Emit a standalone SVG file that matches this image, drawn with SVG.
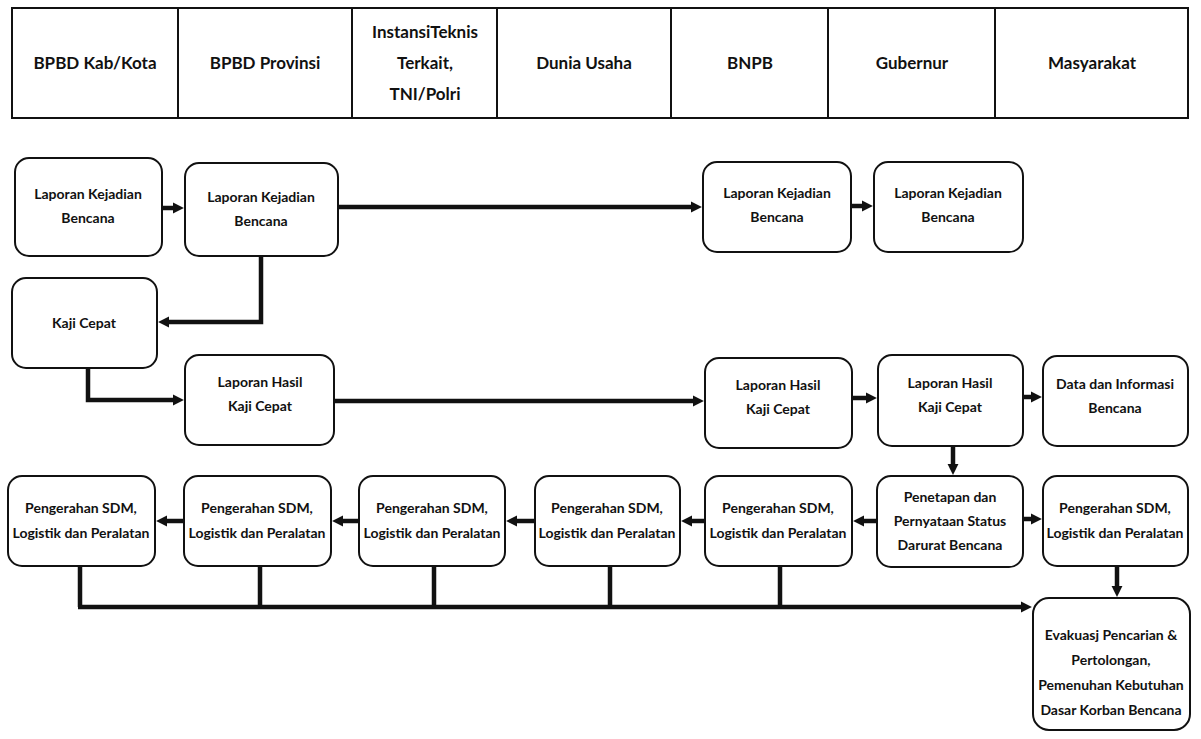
<svg xmlns="http://www.w3.org/2000/svg" width="1201" height="739" viewBox="0 0 1201 739">
<style>
.hd{fill:none;stroke:#111;stroke-width:2}
.ht{font-family:Lato,"Liberation Sans",sans-serif;font-size:17px;font-weight:bold;fill:#111;text-anchor:middle}
.bx{fill:#fff;stroke:#111;stroke-width:2}
.t{font-family:Lato,"Liberation Sans",sans-serif;font-size:14px;font-weight:bold;fill:#111;text-anchor:middle}
.c{fill:none;stroke:#111;stroke-width:4.5}
.ca{fill:none;stroke:#111;stroke-width:4.5;marker-end:url(#ah)}
</style>
<defs>
<marker id="ah" viewBox="0 0 10 10" refX="1" refY="5" markerUnits="userSpaceOnUse" markerWidth="11" markerHeight="12" orient="auto">
<path d="M0,0 L10,5 L0,10 z" fill="#111"/>
</marker>
</defs>
<rect width="1201" height="739" fill="#fff"/>
<g id="header">
<rect class="hd" x="12" y="8" width="1176" height="110"/>
<path class="hd" d="M178,8V118M352,8V118M497,8V118M671,8V118M828,8V118M995,8V118"/>
<text class="ht" x="95" y="69">BPBD Kab/Kota</text>
<text class="ht" x="265" y="69">BPBD Provinsi</text>
<text class="ht" x="425" y="38">InstansiTeknis</text>
<text class="ht" x="425" y="69">Terkait,</text>
<text class="ht" x="425" y="100">TNI/Polri</text>
<text class="ht" x="584" y="69">Dunia Usaha</text>
<text class="ht" x="750" y="69">BNPB</text>
<text class="ht" x="912" y="69">Gubernur</text>
<text class="ht" x="1092" y="69">Masyarakat</text>
</g>
<g id="connectors">
<path class="ca" d="M162,208H174"/>
<path class="ca" d="M338,207H692"/>
<path class="ca" d="M851,206H863"/>
<path class="ca" d="M261,256V322H168"/>
<path class="ca" d="M88,368V400H174"/>
<path class="ca" d="M334,401H694"/>
<path class="ca" d="M852,398H867"/>
<path class="ca" d="M1023,397H1032"/>
<path class="ca" d="M953,446V465"/>
<path class="ca" d="M877,521H863"/>
<path class="ca" d="M705,521H691"/>
<path class="ca" d="M535,521H516"/>
<path class="ca" d="M359,521H342"/>
<path class="ca" d="M184,521H166"/>
<path class="ca" d="M1023,519H1032"/>
<path class="ca" d="M1117,566V587"/>
<path class="c" d="M80,566V607M260,566V607M434,566V607M610,566V607M780,566V607"/>
<path class="ca" d="M78,607H1022"/>
</g>
<g id="n1"><rect class="bx" x="15" y="158" width="147" height="98" rx="14"/><text class="t" x="88" y="199">Laporan Kejadian</text><text class="t" x="88" y="223">Bencana</text></g>
<g id="n2"><rect class="bx" x="185" y="163" width="153" height="93" rx="14"/><text class="t" x="261" y="202">Laporan Kejadian</text><text class="t" x="261" y="226">Bencana</text></g>
<g id="n3"><rect class="bx" x="703" y="162" width="148" height="90" rx="14"/><text class="t" x="777" y="198">Laporan Kejadian</text><text class="t" x="777" y="222">Bencana</text></g>
<g id="n4"><rect class="bx" x="874" y="162" width="149" height="90" rx="14"/><text class="t" x="948" y="198">Laporan Kejadian</text><text class="t" x="948" y="222">Bencana</text></g>
<g id="n5"><rect class="bx" x="12" y="278" width="145" height="90" rx="14"/><text class="t" x="84" y="328">Kaji Cepat</text></g>
<g id="n6"><rect class="bx" x="185" y="355" width="149" height="90" rx="14"/><text class="t" x="260" y="387">Laporan Hasil</text><text class="t" x="260" y="411">Kaji Cepat</text></g>
<g id="n7"><rect class="bx" x="705" y="358" width="147" height="90" rx="14"/><text class="t" x="778" y="390">Laporan Hasil</text><text class="t" x="778" y="414">Kaji Cepat</text></g>
<g id="n8"><rect class="bx" x="878" y="355" width="145" height="91" rx="14"/><text class="t" x="950" y="388">Laporan Hasil</text><text class="t" x="950" y="412">Kaji Cepat</text></g>
<g id="n9"><rect class="bx" x="1043" y="356" width="145" height="90" rx="14"/><text class="t" x="1115" y="389">Data dan Informasi</text><text class="t" x="1115" y="413">Bencana</text></g>
<g id="n10"><rect class="bx" x="8" y="476" width="147" height="90" rx="14"/><text class="t" x="81" y="513">Pengerahan SDM,</text><text class="t" x="81" y="538">Logistik dan Peralatan</text></g>
<g id="n11"><rect class="bx" x="184" y="476" width="147" height="90" rx="14"/><text class="t" x="257" y="513">Pengerahan SDM,</text><text class="t" x="257" y="538">Logistik dan Peralatan</text></g>
<g id="n12"><rect class="bx" x="359" y="476" width="146" height="90" rx="14"/><text class="t" x="432" y="513">Pengerahan SDM,</text><text class="t" x="432" y="538">Logistik dan Peralatan</text></g>
<g id="n13"><rect class="bx" x="535" y="476" width="145" height="90" rx="14"/><text class="t" x="607" y="513">Pengerahan SDM,</text><text class="t" x="607" y="538">Logistik dan Peralatan</text></g>
<g id="n14"><rect class="bx" x="705" y="476" width="147" height="90" rx="14"/><text class="t" x="778" y="513">Pengerahan SDM,</text><text class="t" x="778" y="538">Logistik dan Peralatan</text></g>
<g id="n15"><rect class="bx" x="877" y="476" width="146" height="91" rx="14"/><text class="t" x="950" y="502">Penetapan dan</text><text class="t" x="950" y="526">Pernyataan Status</text><text class="t" x="950" y="550">Darurat Bencana</text></g>
<g id="n16"><rect class="bx" x="1043" y="476" width="145" height="90" rx="14"/><text class="t" x="1115" y="513">Pengerahan SDM,</text><text class="t" x="1115" y="538">Logistik dan Peralatan</text></g>
<g id="n17"><rect class="bx" x="1033" y="598" width="157" height="132" rx="16"/><text class="t" x="1111" y="640">Evakuasj Pencarian &amp;</text><text class="t" x="1111" y="665">Pertolongan,</text><text class="t" x="1111" y="690">Pemenuhan Kebutuhan</text><text class="t" x="1111" y="715">Dasar Korban Bencana</text></g>
</svg>
